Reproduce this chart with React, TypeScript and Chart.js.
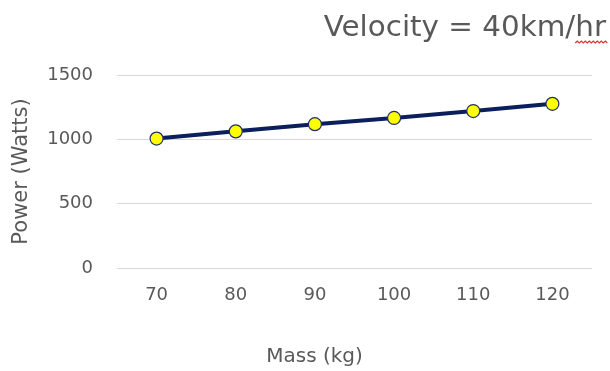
import React, { useEffect, useRef } from "react";
import { Chart, registerables } from "chart.js";

Chart.register(...registerables);

const categories = ["70", "80", "90", "100", "110", "120"];
const powerValues = [1006, 1062, 1118, 1166, 1220, 1276];
const yTicks = [0, 500, 1000, 1500];
const chartTitle = "Velocity = 40km/hr";
const misspelled = "hr";
const xTitle = "Mass (kg)";
const yTitle = "Power (Watts)";

const FONT = "'DejaVu Sans', 'Open Sans', sans-serif";
const TEXT = "#595959";

const textPlugin = {
  id: "customTexts",
  afterDraw(chart: any) {
    const ctx = chart.ctx;
    ctx.save();
    // chart title, top right
    ctx.font = `28px ${FONT}`;
    ctx.fillStyle = TEXT;
    ctx.textAlign = "right";
    ctx.textBaseline = "alphabetic";
    const xr = chart.width - 4;
    const yb = 36;
    const sx = 1.05;
    ctx.save();
    ctx.translate(xr, yb);
    ctx.scale(sx, 1);
    ctx.fillText(chartTitle, 0, 0);
    ctx.restore();
    const w = ctx.measureText(misspelled).width * sx;
    // spell-check wavy underline
    ctx.strokeStyle = "#e03030";
    ctx.lineWidth = 1.2;
    ctx.beginPath();
    const y0 = yb + 7;
    let x = xr - w;
    ctx.moveTo(x, y0);
    let up = true;
    while (x < xr) {
      x += 2;
      ctx.lineTo(x, up ? y0 - 2 : y0);
      up = !up;
    }
    ctx.stroke();
    // x axis title (sits left of the plot centre in the reference)
    ctx.font = `20px ${FONT}`;
    ctx.textAlign = "center";
    ctx.textBaseline = "middle";
    ctx.fillStyle = TEXT;
    const xs = chart.scales.x;
    ctx.fillText(xTitle, (xs.left + xs.right) / 2 - 40, chart.height - 14);
    ctx.restore();
  },
};

export default function App() {
  const ref = useRef<HTMLCanvasElement | null>(null);
  useEffect(() => {
    if (!ref.current) return;
    const chart = new Chart(ref.current, {
      type: "line",
      data: {
        labels: categories,
        datasets: [
          {
            data: powerValues,
            borderColor: "#0b1f5c",
            borderWidth: 4,
            pointRadius: 6.5,
            pointBackgroundColor: "#ffff00",
            pointBorderColor: "#1f2f6a",
            pointBorderWidth: 1.2,
            tension: 0,
          },
        ],
      },
      options: {
        animation: false,
        responsive: false,
        layout: { padding: { top: 75, right: 18, bottom: 0, left: 0 } },
        plugins: {
          legend: { display: false },
          title: { display: false },
          tooltip: { enabled: false },
        },
        scales: {
          x: {
            offset: true,
            grid: { display: false, drawTicks: false },
            border: { display: false },
            ticks: { color: TEXT, font: { family: FONT, size: 18 }, padding: 17 },
            title: { display: false, text: xTitle },
            afterFit(scale: any) {
              scale.height = 103;
            },
          },
          y: {
            min: 0,
            max: 1500,
            afterBuildTicks(scale: any) {
              scale.ticks = yTicks.map((v) => ({ value: v }));
            },
            grid: { color: "#d9d9d9", lineWidth: 1, drawTicks: false },
            border: { display: false },
            ticks: {
              color: TEXT,
              font: { family: FONT, size: 18 },
              padding: 24,
              callback: (v: any) => String(v),
            },
            title: {
              display: true,
              text: yTitle,
              color: TEXT,
              font: { family: FONT, size: 21 },
              padding: 9,
            },
            afterFit(scale: any) {
              scale.width = 117;
            },
          },
        },
      },
      plugins: [textPlugin],
    });
    return () => chart.destroy();
  }, []);
  return (
    <div style={{ position: "fixed", left: 0, top: 0, width: 610, height: 371, background: "#fff" }}>
      <canvas ref={ref} width={610} height={371} style={{ width: 610, height: 371 }} />
    </div>
  );
}
